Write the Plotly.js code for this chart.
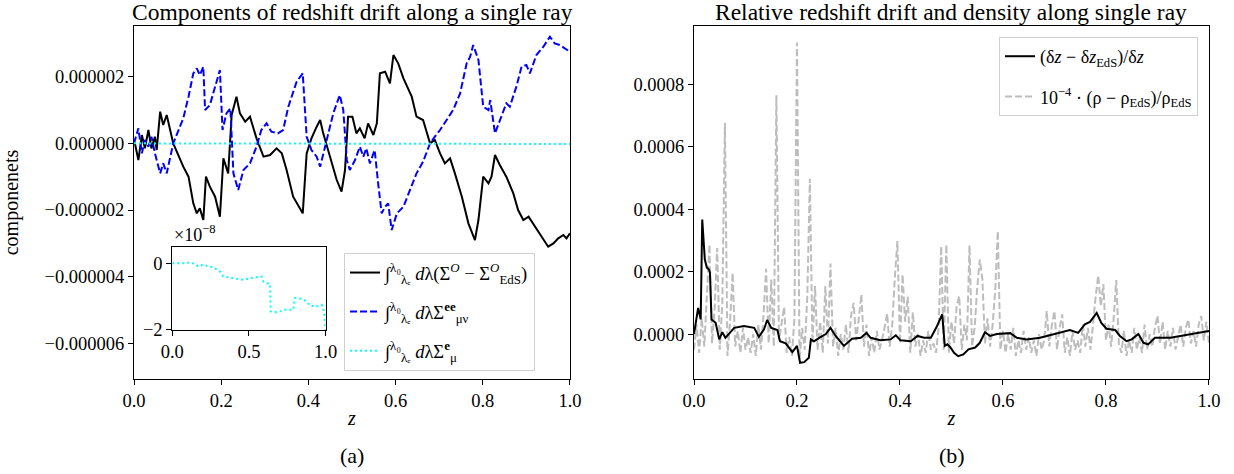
<!DOCTYPE html>
<html>
<head>
<meta charset="utf-8">
<script src="https://cdn.plot.ly/plotly-3.0.1.min.js"></script>
<style>html,body{margin:0;padding:0;background:#fff;}#chart{width:1234px;height:474px;}</style>
</head>
<body>
<div id="chart"></div>
<script>
// ---------- Panel (a): components (units of 1e-6) ----------
const blackZ = [0,0.002,0.010,0.018,0.025,0.033,0.040,0.048,0.052,0.060,0.067,0.075,0.090,0.113,0.125,0.136,0.144,0.151,0.159,0.165,0.174,0.186,0.197,0.205,0.216,0.224,0.235,0.243,0.255,0.266,0.281,0.297,0.312,0.327,0.339,0.350,0.365,0.377,0.387,0.396,0.407,0.419,0.427,0.434,0.449,0.465,0.476,0.484,0.491,0.501,0.510,0.518,0.529,0.537,0.549,0.557,0.564,0.576,0.587,0.595,0.606,0.618,0.637,0.648,0.663,0.679,0.690,0.702,0.713,0.725,0.736,0.752,0.767,0.782,0.790,0.801,0.813,0.820,0.828,0.839,0.854,0.870,0.881,0.893,0.905,0.930,0.950,0.962,0.973,0.985,0.992,1.0];
const blackV = [0,0,-0.5,0.25,-0.15,0.4,-0.15,0.2,-0.2,0.95,0.55,0.85,0,-0.7,-1.0,-1.8,-2.1,-1.95,-2.3,-1.0,-1.3,-1.6,-2.2,-0.45,-0.9,0.85,1.4,0.9,0.65,0.8,0.15,-0.4,-0.35,-0.15,-0.3,-0.8,-1.6,-1.85,-2.1,-0.3,0.15,0.5,0.7,0.3,-0.4,-1.1,-1.45,-0.8,0.8,0.8,0.3,0.45,0.15,0.6,0.25,0.6,2.1,2.15,1.8,2.65,2.4,1.95,1.4,0.8,0.7,0,0.1,-0.3,-0.6,-0.45,-0.9,-1.6,-2.4,-2.9,-2.3,-1.0,-1.2,-1.0,-0.35,-0.65,-1.0,-1.5,-2.0,-2.3,-2.2,-2.7,-3.1,-3.0,-2.85,-2.75,-2.85,-2.7];

const blueZ = [0,0.002,0.010,0.018,0.025,0.033,0.040,0.048,0.060,0.067,0.075,0.090,0.113,0.125,0.136,0.144,0.151,0.159,0.163,0.174,0.186,0.197,0.203,0.212,0.221,0.228,0.239,0.251,0.266,0.281,0.292,0.304,0.315,0.330,0.342,0.354,0.373,0.387,0.396,0.407,0.419,0.427,0.442,0.457,0.472,0.480,0.488,0.495,0.507,0.518,0.526,0.533,0.541,0.552,0.560,0.568,0.576,0.583,0.591,0.603,0.618,0.633,0.648,0.663,0.679,0.690,0.702,0.717,0.732,0.748,0.763,0.771,0.778,0.790,0.801,0.813,0.817,0.828,0.839,0.854,0.862,0.877,0.889,0.900,0.908,0.923,0.939,0.954,0.965,0.977,0.988,1.0];
const blueV = [0,0.1,0.45,-0.3,0.1,-0.1,0.2,-0.3,-0.9,-0.6,-0.9,0,0.75,1.4,2.1,2.25,2.05,2.3,1.0,1.15,1.7,2.2,0.4,0.9,1.05,-0.9,-1.4,-0.8,-0.6,-0.1,0.4,0.6,0.35,0.3,0.4,1.1,1.85,2.1,0.2,-0.2,-0.4,-0.7,0.1,0.9,1.45,1.0,-0.5,-0.8,-0.5,-0.1,-0.4,-0.15,-0.6,-0.2,-1.2,-2.1,-1.9,-1.8,-2.6,-2.1,-1.9,-1.4,-0.9,-0.55,0,0.2,0.4,0.7,1.0,1.5,2.4,2.6,2.95,2.5,1.1,1.0,1.3,0.3,0.7,1.2,1.1,1.7,2.3,2.35,2.1,2.65,2.9,3.2,3.0,2.95,2.85,2.75];

// cyan component (units of 1e-8), also shown in the inset
const cyanZ = [0,0.007,0.072,0.115,0.148,0.17,0.202,0.235,0.267,0.311,0.333,0.376,0.42,0.463,0.507,0.55,0.583,0.594,0.615,0.637,0.642,0.659,0.702,0.735,0.789,0.8,0.844,0.876,0.898,0.941,0.974,0.989,0.996,1.0];
const cyanV = [0,0.01,0.01,0.03,-0.01,-0.09,-0.03,-0.09,-0.11,-0.24,-0.39,-0.42,-0.45,-0.49,-0.44,-0.41,-0.39,-0.54,-0.59,-0.61,-1.44,-1.47,-1.44,-1.39,-1.39,-1.04,-1.06,-1.14,-1.27,-1.29,-1.24,-1.44,-1.94,-2.0];

// ---------- Panel (b): relative drift (units of 1e-4) ----------
const driftZ = [0,0.008,0.013,0.016,0.021,0.025,0.029,0.031,0.034,0.042,0.049,0.055,0.061,0.068,0.078,0.097,0.117,0.126,0.136,0.142,0.150,0.162,0.167,0.178,0.191,0.200,0.206,0.214,0.223,0.227,0.233,0.243,0.256,0.265,0.275,0.291,0.307,0.324,0.335,0.343,0.362,0.382,0.392,0.401,0.421,0.434,0.447,0.460,0.472,0.482,0.487,0.492,0.498,0.505,0.513,0.523,0.533,0.546,0.555,0.565,0.575,0.588,0.614,0.627,0.646,0.672,0.691,0.711,0.730,0.746,0.759,0.769,0.782,0.791,0.801,0.818,0.827,0.840,0.850,0.863,0.873,0.882,0.895,0.925,0.950,0.976,0.995,1.0];
const driftV = [0,0.84,0.47,3.67,2.39,2.13,2.07,1.97,0.47,0.36,-0.17,0.06,-0.12,0,0.2,0.26,0.2,-0.09,0.15,0.45,0.2,0.13,-0.23,-0.3,-0.58,-0.38,-0.92,-0.9,-0.76,-0.17,-0.23,-0.12,0,0.2,-0.06,-0.38,-0.15,-0.12,0.04,-0.12,-0.2,-0.17,-0.04,-0.2,-0.23,-0.06,-0.12,-0.12,0.26,0.63,-0.38,-0.33,-0.43,-0.6,-0.71,-0.65,-0.49,-0.43,-0.28,0.06,-0.06,0,0.03,-0.12,-0.17,-0.12,-0.04,0.04,0.13,0.04,0.31,0.39,0.68,0.36,0.17,0.13,-0.06,-0.23,-0.17,0,-0.28,-0.33,-0.12,-0.12,-0.04,0.04,0.1,0.1];

// density contrast * 1e-4 (values in units of 1e-4), sampled every 0.005 in z
const densZ = [0,0.005,0.01,0.015,0.02,0.025,0.03,0.035,0.04,0.045,0.05,0.055,0.06,0.065,0.07,0.075,0.08,0.085,0.09,0.095,0.1,0.105,0.11,0.115,0.12,0.125,0.13,0.135,0.14,0.145,0.15,0.155,0.16,0.165,0.17,0.175,0.18,0.185,0.19,0.195,0.2,0.205,0.21,0.215,0.22,0.225,0.23,0.235,0.24,0.245,0.25,0.255,0.26,0.265,0.27,0.275,0.28,0.285,0.29,0.295,0.3,0.305,0.31,0.315,0.32,0.325,0.33,0.335,0.34,0.345,0.35,0.355,0.36,0.365,0.37,0.375,0.38,0.385,0.39,0.395,0.4,0.405,0.41,0.415,0.42,0.425,0.43,0.435,0.44,0.445,0.45,0.455,0.46,0.465,0.47,0.475,0.48,0.485,0.49,0.495,0.5,0.505,0.51,0.515,0.52,0.525,0.53,0.535,0.54,0.545,0.55,0.555,0.56,0.565,0.57,0.575,0.58,0.585,0.59,0.595,0.6,0.605,0.61,0.615,0.62,0.625,0.63,0.635,0.64,0.645,0.65,0.655,0.66,0.665,0.67,0.675,0.68,0.685,0.69,0.695,0.7,0.705,0.71,0.715,0.72,0.725,0.73,0.735,0.74,0.745,0.75,0.755,0.76,0.765,0.77,0.775,0.78,0.785,0.79,0.795,0.8,0.805,0.81,0.815,0.82,0.825,0.83,0.835,0.84,0.845,0.85,0.855,0.86,0.865,0.87,0.875,0.88,0.885,0.89,0.895,0.9,0.905,0.91,0.915,0.92,0.925,0.93,0.935,0.94,0.945,0.95,0.955,0.96,0.965,0.97,0.975,0.98,0.985,0.99,0.995,1.0];
const densV = [-0.5,0.3,-0.6,0.5,-0.4,1.2,2.87,-0.3,0.8,2.76,-0.5,1.0,6.77,-0.7,0.4,1.96,-0.4,0.1,-0.6,0.2,-0.5,-0.1,-0.6,0.0,-0.7,0.3,-0.5,0.6,2.09,-0.3,1.75,-0.4,7.65,-0.2,0.3,0.87,-0.6,-0.1,-0.7,0.5,9.34,-0.8,0.2,-0.5,1.2,4.98,-0.3,1.54,-0.5,0.4,-0.6,1.54,-0.3,2.26,-0.4,0.2,-0.7,0.0,-0.5,0.3,-0.6,0.6,1.0,-0.2,0.5,1.27,-0.4,0.3,-0.7,-0.1,-0.6,0.1,-0.5,-0.2,0.2,0.66,-0.4,0.3,1.8,2.98,-0.3,1.91,0.4,1.2,-0.6,0.7,-0.4,0.0,-0.7,-0.2,-0.6,0.1,-0.5,-0.3,-0.6,0.2,2.82,-0.5,2.87,-0.6,0.4,-0.3,0.9,1.22,-0.5,0.3,-0.2,2.84,-0.4,0.2,1.5,2.39,1.75,-0.3,0.5,-0.4,0.3,1.4,3.3,-0.5,0.1,-0.6,0.0,-0.5,0.2,-0.7,-0.2,-0.6,0.1,-0.5,-0.1,-0.6,-0.2,-0.7,0.0,-0.5,-0.2,0.74,-0.4,0.3,0.74,-0.5,0.2,0.63,-0.6,-0.1,-0.7,0.1,-0.5,-0.2,-0.6,0.3,-0.4,0.2,-0.5,0.4,1.2,1.88,0.9,1.6,-0.2,0.3,-0.4,0.5,1.73,-0.3,-0.6,0.1,-0.7,-0.2,-0.6,0.2,-0.5,-0.1,-0.6,0.3,-0.5,0.0,-0.4,0.2,0.59,-0.3,0.4,-0.5,0.1,-0.4,0.2,-0.5,-0.1,0.3,-0.4,0.2,0.47,-0.3,0.1,-0.4,0.3,0.58,-0.2,0.4,-0.3];

const xTicks = [0, 0.2, 0.4, 0.6, 0.8, 1.0];
const insetXTicks = [0, 0.5, 1.0];
const insetYTicks = [0, -2];

// unit conversions
const e6 = v => v * 1e-6, e8 = v => v * 1e-8, e4 = v => v * 1e-4;

const FONT = "Liberation Serif, DejaVu Serif, serif";
const LEG = '∫<sup>λ₀</sup><sub>λₑ</sub> ';
const TICK = 18.5;

const traces = [
  {x: blackZ, y: blackV.map(e6), xaxis: 'x', yaxis: 'y', mode: 'lines', type: 'scatter',
   line: {color: 'black', width: 2}, name: LEG + '<i>d</i>λ(Σ<sup><i>O</i></sup> − Σ<sup><i>O</i></sup><sub>EdS</sub>)',
   legend: 'legend', legendgroup: 'a1', legendrank: 1},
  {x: blueZ, y: blueV.map(e6), xaxis: 'x', yaxis: 'y', mode: 'lines', type: 'scatter',
   line: {color: '#0000ff', width: 2, dash: '7px,3px'}, name: LEG + '<i>d</i>λΣ<sup><b>ee</b></sup><sub>μν</sub>',
   legend: 'legend', legendgroup: 'a2', legendrank: 2},
  {x: cyanZ, y: cyanV.map(e8), xaxis: 'x', yaxis: 'y', mode: 'lines', type: 'scatter',
   line: {color: '#00ffff', width: 2, dash: '2px,3px'}, name: LEG + '<i>d</i>λΣ<sup><b>e</b></sup><sub>μ</sub>',
   legend: 'legend', legendgroup: 'a3', legendrank: 3},
  {x: cyanZ, y: cyanV, xaxis: 'x3', yaxis: 'y3', mode: 'lines', type: 'scatter',
   line: {color: '#00ffff', width: 2, dash: '2px,3px'}, showlegend: false},
  {x: densZ, y: densV.map(e4), xaxis: 'x2', yaxis: 'y2', mode: 'lines', type: 'scatter',
   line: {color: '#bdbdbd', width: 2, dash: '7px,3px'}, name: '10<sup>−4</sup> · (ρ − ρ<sub>EdS</sub>)/ρ<sub>EdS</sub>',
   legend: 'legend2', legendgroup: 'b2', legendrank: 2},
  {x: driftZ, y: driftV.map(e4), xaxis: 'x2', yaxis: 'y2', mode: 'lines', type: 'scatter',
   line: {color: 'black', width: 2}, name: '(δ<i>z</i> − δ<i>z</i><sub>EdS</sub>)/δ<i>z</i>',
   legend: 'legend2', legendgroup: 'b1', legendrank: 1}
];

const axisCommon = {
  showline: true, mirror: true, linecolor: 'black', linewidth: 1,
  ticks: 'outside', ticklen: 5, tickwidth: 1, tickcolor: 'black',
  showgrid: false, zeroline: false,
  tickfont: {family: FONT, size: TICK, color: 'black'}
};

const layout = {
  width: 1234, height: 474,
  margin: {l: 0, r: 0, t: 0, b: 0},
  paper_bgcolor: 'white', plot_bgcolor: 'white',
  font: {family: FONT, size: TICK, color: 'black'},
  xaxis: Object.assign({}, axisCommon, {domain: [0.1086, 0.4619], range: [0, 1], anchor: 'y',
    tickvals: xTicks, tickformat: '.1f',
    title: {text: '<i>z</i>', font: {family: FONT, size: 20}, standoff: 0}}),
  yaxis: Object.assign({}, axisCommon, {domain: [0.2004, 0.9451], range: [-7.07e-6, 3.52e-6], anchor: 'x',
    tick0: 0, dtick: 2e-6, tickformat: '.6f',
    title: {text: 'componenets', font: {family: FONT, size: 20}, standoff: 22}}),
  xaxis2: Object.assign({}, axisCommon, {domain: [0.5624, 0.9797], range: [0, 1], anchor: 'y2',
    tickvals: xTicks, tickformat: '.1f',
    title: {text: '<i>z</i>', font: {family: FONT, size: 20}, standoff: 0}}),
  yaxis2: Object.assign({}, axisCommon, {domain: [0.2004, 0.9451], range: [-0.000144, 0.000987], anchor: 'x2',
    tick0: 0, dtick: 0.0002, tickformat: '.4f'}),
  xaxis3: Object.assign({}, axisCommon, {domain: [0.1396, 0.2639], range: [0, 1], anchor: 'y3',
    tickvals: insetXTicks, tickformat: '.1f'}),
  yaxis3: Object.assign({}, axisCommon, {domain: [0.3038, 0.4783], range: [-2, 0.49], anchor: 'x3',
    tickvals: insetYTicks, ticktext: ['0', '−2']}),
  legend: {x: 0.2788, y: 0.4662, xanchor: 'left', yanchor: 'top', bgcolor: 'white',
    bordercolor: '#d0d0d0', borderwidth: 1, font: {family: FONT, size: 18.5, color: 'black'},
    tracegroupgap: 12, traceorder: 'grouped'},
  legend2: {x: 1198/1234, y: 0.9219, xanchor: 'right', yanchor: 'top', bgcolor: 'white',
    bordercolor: '#d0d0d0', borderwidth: 1, font: {family: FONT, size: 18, color: 'black'},
    tracegroupgap: 14, traceorder: 'grouped'},
  annotations: [
    {text: 'Components of redshift drift along a single ray', xref: 'paper', yref: 'paper',
     x: 352/1234, y: 1 - 12/474, xanchor: 'center', yanchor: 'middle', showarrow: false,
     font: {family: FONT, size: 23.5, color: 'black'}},
    {text: 'Relative redshift drift and density along single ray', xref: 'paper', yref: 'paper',
     x: 951/1234, y: 1 - 12/474, xanchor: 'center', yanchor: 'middle', showarrow: false,
     font: {family: FONT, size: 23.5, color: 'black'}},
    {text: '(a)', xref: 'paper', yref: 'paper', x: 352/1234, y: 1 - 455/474, xanchor: 'center', yanchor: 'middle',
     showarrow: false, font: {family: FONT, size: 22, color: 'black'}},
    {text: '(b)', xref: 'paper', yref: 'paper', x: 952/1234, y: 1 - 455/474, xanchor: 'center', yanchor: 'middle',
     showarrow: false, font: {family: FONT, size: 22, color: 'black'}},
    {text: '×10<sup>−8</sup>', xref: 'paper', yref: 'paper', x: 172/1234, y: 1 - 247/474, xanchor: 'left', yanchor: 'bottom',
     showarrow: false, font: {family: FONT, size: 18, color: 'black'}}
  ]
};

Plotly.newPlot('chart', traces, layout, {displayModeBar: false, staticPlot: true});
</script>
</body>
</html>
